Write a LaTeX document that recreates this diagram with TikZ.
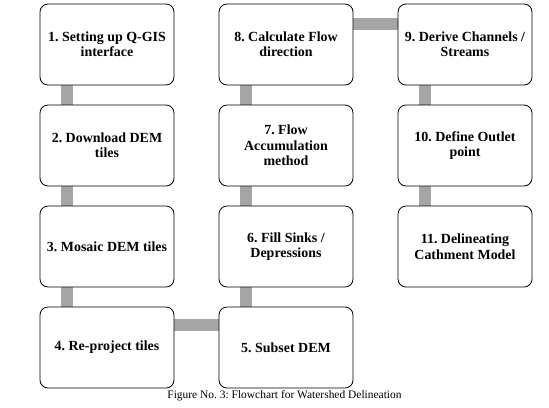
\documentclass[tikz,border=0pt]{standalone}
\usepackage{fontspec}
\setmainfont{Liberation Serif}
\usetikzlibrary{calc,backgrounds}
\definecolor{bargray}{RGB}{165,165,165}
\frenchspacing

\begin{document}
\begin{tikzpicture}[x=1bp, y=-1bp,
  stepbox/.style={draw, line width=0.8bp, rounded corners=8bp, fill=white,
                  minimum width=134bp, minimum height=81bp, inner sep=1bp,
                  align=center, font=\fontsize{14}{15.5}\selectfont\bfseries},
  link/.style={draw=bargray, line width=12bp},
]
\useasboundingbox (0,0) rectangle (549,407);

% left column
\node[stepbox] (s1) at (107,44.5)  {1. Setting up Q-GIS\\ interface};
\node[stepbox] (s2) at (107,145.5) {2. Download DEM\\ tiles};
\node[stepbox] (s3) at (107,246.5) {3. Mosaic DEM tiles};
\node[stepbox] (s4) at (107,347.5) {4. Re-project tiles};

% middle column
\node[stepbox] (s5) at (286,347.5) {5. Subset DEM};
\node[stepbox] (s6) at (286,246.5) {6. Fill Sinks /\\ Depressions};
\node[stepbox] (s7) at (286,145.5) {7. Flow\\ Accumulation\\ method};
\node[stepbox] (s8) at (286,44.5)  {8. Calculate Flow\\ direction};

% right column
\node[stepbox] (s9)  at (465,44.5)  {9. Derive Channels /\\ Streams};
\node[stepbox] (s10) at (465,145.5) {10. Define Outlet\\ point};
\node[stepbox] (s11) at (465,246.5) {11. Delineating\\ Cathment Model};

% gray bars between the boxes
\begin{scope}[on background layer]
\foreach \a/\b in {s1/s2, s2/s3, s3/s4, s8/s7, s7/s6, s6/s5, s9/s10, s10/s11}
  \draw[link] ($(\a.south west)!0.2!(\a.south east)$) -- ($(\b.north west)!0.2!(\b.north east)$);
\draw[link] ($(s4.north east)!0.22!(s4.south east)$) -- ($(s5.north west)!0.22!(s5.south west)$);
\draw[link] ($(s8.north east)!0.25!(s8.south east)$) -- ($(s9.north west)!0.25!(s9.south west)$);
\end{scope}

\node[font=\fontsize{11.5}{13}\selectfont] (cap) at (284.5,396)
  {Figure No. 3: Flowchart for Watershed Delineation};
\end{tikzpicture}
\end{document}
